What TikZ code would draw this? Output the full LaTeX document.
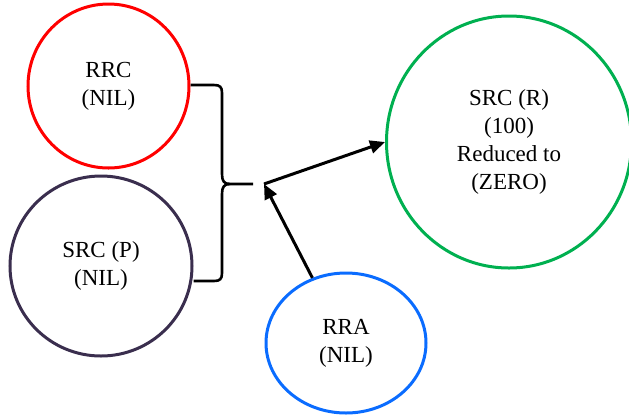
\documentclass[tikz,border=0pt]{standalone}
\usepackage{fontspec}
\setmainfont{Liberation Serif}
\usetikzlibrary{arrows.meta,shapes.geometric}
\definecolor{cred}{HTML}{FF0000}
\definecolor{cpurple}{HTML}{3A2E4E}
\definecolor{cgreen}{HTML}{00B050}
\definecolor{cblue}{HTML}{0A6CFF}
\tikzset{
  state/.style={ellipse, draw, line width=3pt, inner sep=0pt, align=center,
    font=\fontsize{23}{27.7}\selectfont},
  link/.style={line width=3pt, -{Triangle[length=15pt,width=13pt]}},
  bracket/.style={line width=2.6pt, line join=round}
}
\begin{document}
\begin{tikzpicture}[x=1pt,y=-1pt]
\useasboundingbox (0,0) rectangle (629,416);
\node[state, draw=cred, minimum width=161pt, minimum height=164pt] (rrc) at (108.5,86) {RRC\\(NIL)};
\node[state, draw=cpurple, minimum width=182pt, minimum height=180pt] (srcp) at (101,266) {SRC (P)\\(NIL)};
\node[state, draw=cgreen, minimum width=245pt, minimum height=252pt] (srcr) at (509,142) {SRC (R)\\(100)\\Reduced to\\(ZERO)};
\node[state, draw=cblue, minimum width=160pt, minimum height=140pt] (rra) at (346,343) {RRA\\(NIL)};
\coordinate (tip) at (253,184);
\coordinate (junction) at (264,184);
\draw[bracket] (rrc.east |- 0,85) -- (214,85) .. controls (220,85) and (222,87) .. (222,93)
  -- (222,174) .. controls (222,181) and (224,184) .. (230,184) -- (tip);
\draw[bracket] (srcp.east |- 0,281) -- (214,281) .. controls (220,281) and (222,279) .. (222,273)
  -- (222,194) .. controls (222,187) and (224,184) .. (230,184);
\draw[link] (junction) -- (srcr.west);
\draw[link] (rra) -- (junction);
\end{tikzpicture}
\end{document}
